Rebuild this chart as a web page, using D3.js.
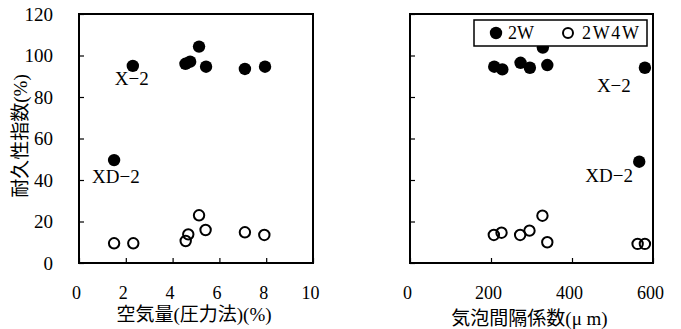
<!DOCTYPE html>
<html>
<head>
<meta charset="utf-8">
<script src="https://cdn.jsdelivr.net/npm/d3@7/dist/d3.min.js"></script>
<style>
  body { margin: 0; background: #fff; }
  text { font-family: "Liberation Serif", "Noto Sans CJK JP", serif; fill: #000; }
</style>
</head>
<body>
<div class="chart"></div>
<script>
// left panel: air content (%)
var airFilled = [[1.5, 49.6], [2.3, 95], [4.55, 96], [4.75, 97], [5.13, 104.3], [5.43, 94.6], [7.09, 93.5], [7.95, 94.6]];
var airOpen = [[1.5, 9.5], [2.32, 9.5], [4.56, 10.6], [4.67, 13.8], [5.13, 23], [5.41, 15.9], [7.09, 14.8], [7.92, 13.5]];
// right panel: spacing factor (um)
var spacingFilled = [[208, 94.6], [228, 93.3], [273, 96.5], [296, 94.1], [328, 103.8], [339, 95.4], [580, 94.1], [566, 48.8]];
var spacingOpen = [[207, 13.5], [226, 14.6], [272, 13.5], [295, 15.6], [327, 22.8], [339, 10], [562, 9.2], [580, 9.2]];

var yTicks = [0, 20, 40, 60, 80, 100, 120];
var airTicks = [0, 2, 4, 6, 8, 10];
var spacingTicks = [0, 200, 400, 600];
var seriesNames = ["2W", "2W4W"];

var width = 681, height = 329;
var top_ = 14, bottom = 263;

var svg = d3.select(".chart").append("svg")
  .attr("width", width)
  .attr("height", height);

var y = d3.scaleLinear().domain([0, 120]).range([bottom, top_]);

function drawPanel(opts) {
  var x = d3.scaleLinear().domain(opts.domain).range([opts.x0, opts.x1]);
  var g = svg.append("g");

  // y axis, ticks pointing inward
  var yAxis = d3.axisLeft(y).tickValues(yTicks).tickSizeInner(-5).tickSizeOuter(0)
    .tickPadding(26);
  if (!opts.yLabels) yAxis.tickFormat("");
  g.append("g")
    .attr("transform", `translate(${opts.x0},0)`)
    .call(yAxis)
    .call(a => a.select(".domain").remove())
    .call(a => a.selectAll("line").attr("stroke-width", 1.2))
    .selectAll("text").attr("font-size", 19).attr("font-family", null);

  var xAxis = d3.axisBottom(x).tickValues(opts.ticks).tickSizeInner(-5).tickSizeOuter(0)
    .tickPadding(23);
  g.append("g")
    .attr("transform", `translate(0,${bottom})`)
    .call(xAxis)
    .call(a => a.select(".domain").remove())
    .call(a => a.selectAll("line").attr("stroke-width", 1.2))
    .selectAll("text").attr("font-size", 18).attr("font-family", null).attr("dx", -3);

  g.append("rect")
    .attr("x", opts.x0).attr("y", top_)
    .attr("width", opts.x1 - opts.x0).attr("height", bottom - top_)
    .attr("fill", "none").attr("stroke", "#000").attr("stroke-width", 2);

  g.selectAll("circle.open")
    .data(opts.open)
    .enter().append("circle")
    .attr("class", "open")
    .attr("cx", d => x(d[0])).attr("cy", d => y(d[1]))
    .attr("r", 5.2)
    .attr("fill", "none").attr("stroke", "#000").attr("stroke-width", 2);

  g.selectAll("circle.filled")
    .data(opts.filled)
    .enter().append("circle")
    .attr("class", "filled")
    .attr("cx", d => x(d[0])).attr("cy", d => y(d[1]))
    .attr("r", 6.2)
    .attr("fill", "#000");

  opts.notes.forEach(n => {
    g.append("text")
      .attr("x", x(n.at[0]) + n.dx).attr("y", y(n.at[1]) + n.dy)
      .attr("font-size", 19)
      .attr("text-anchor", n.anchor)
      .text(n.text);
  });

  g.append("text")
    .attr("x", (opts.x0 + opts.x1) / 2 - 2)
    .attr("y", opts.titleY)
    .attr("text-anchor", "middle")
    .attr("font-size", 19)
    .text(opts.title);
  return x;
}

drawPanel({
  x0: 79, x1: 313, domain: [0, 10], ticks: airTicks, yLabels: true,
  filled: airFilled, open: airOpen,
  title: "空気量(圧力法)(%)", titleY: 321,
  notes: [
    {text: "X−2", at: airFilled[1], dx: -18, dy: 19, anchor: "start"},
    {text: "XD−2", at: airFilled[0], dx: -22, dy: 23, anchor: "start"}
  ]
});

drawPanel({
  x0: 410, x1: 653, domain: [0, 600], ticks: spacingTicks, yLabels: false,
  filled: spacingFilled, open: spacingOpen,
  title: "気泡間隔係数(μ m)", titleY: 325,
  notes: [
    {text: "X−2", at: spacingFilled[6], dx: -48, dy: 24, anchor: "start"},
    {text: "XD−2", at: spacingFilled[7], dx: -54, dy: 20, anchor: "start"}
  ]
});

// y title
svg.append("text")
  .attr("transform", "translate(27,136) rotate(-90)")
  .attr("text-anchor", "middle")
  .attr("font-size", 19)
  .text("耐久性指数(%)");

// legend
var legend = svg.append("g");
legend.append("rect")
  .attr("x", 474).attr("y", 20).attr("width", 173).attr("height", 26)
  .attr("fill", "#fff").attr("stroke", "#000").attr("stroke-width", 1.5);
legend.append("circle").attr("cx", 496).attr("cy", 33).attr("r", 6.2).attr("fill", "#000");
legend.append("text").attr("x", 508).attr("y", 39).attr("font-size", 18).text(seriesNames[0]);
legend.append("circle").attr("cx", 568).attr("cy", 33).attr("r", 5)
  .attr("fill", "none").attr("stroke", "#000").attr("stroke-width", 2);
legend.append("text").attr("x", 582).attr("y", 39).attr("font-size", 18)
  .attr("textLength", 57).text(seriesNames[1]);
</script>
</body>
</html>
